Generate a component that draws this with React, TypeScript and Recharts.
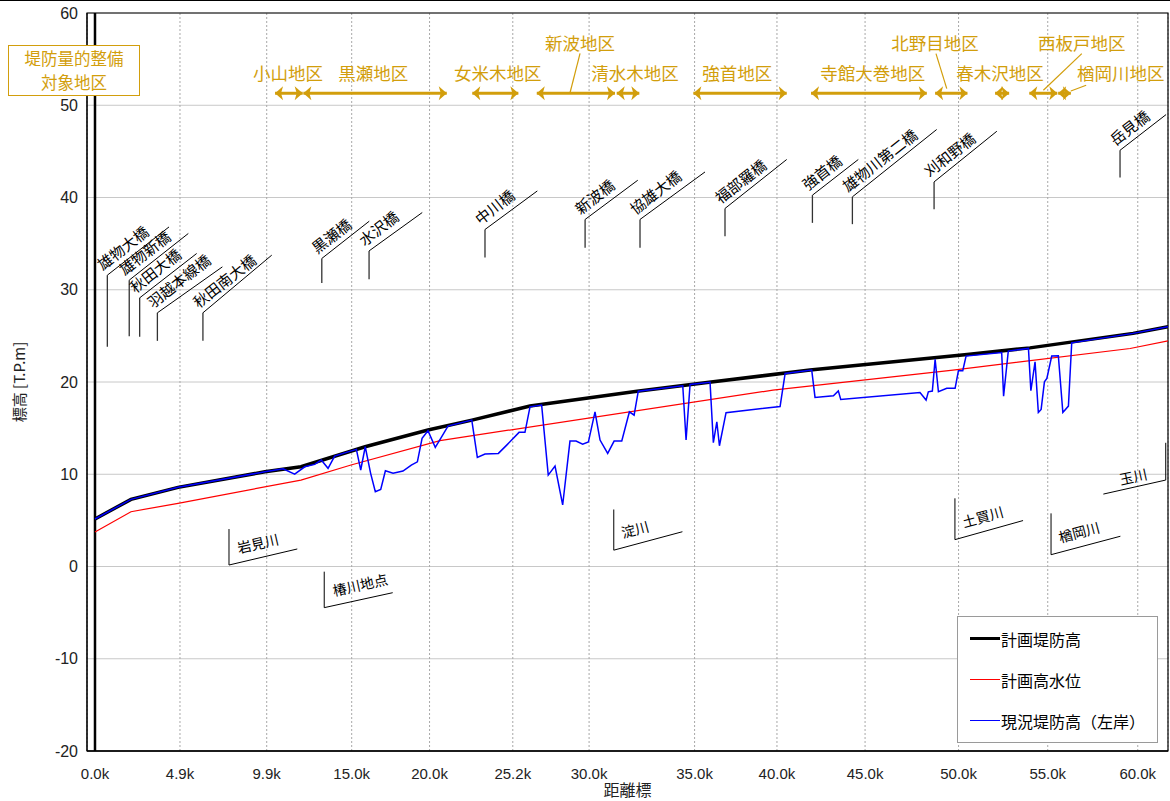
import {
  LineChart,
  Line,
  XAxis,
  YAxis,
  CartesianGrid,
  ReferenceLine,
  ReferenceDot,
  ReferenceArea,
  Legend,
} from "recharts";

// x is the chart's station position: 0.0k sits at 0 and 60.0k at 60,
// but the stations between are not evenly spaced in km.
const tickPos = [0, 4.89, 9.88, 14.77, 19.25, 24.04, 28.43, 34.5, 39.24, 44.31, 49.69, 54.82, 60];
const tickLabels = ["0.0k", "4.9k", "9.9k", "15.0k", "20.0k", "25.2k", "30.0k", "35.0k", "40.0k", "45.0k", "50.0k", "55.0k", "60.0k"];
const yTicks = [-20, -10, 0, 10, 20, 30, 40, 50, 60];

// 計画堤防高
const planDikeX = [0, 2.07, 4.78, 9.78, 11.85, 15.54, 19.16, 21.69, 25.03, 31.19, 35.22, 41.14, 50.18, 53.8, 59.73, 61.74];
const planDikeY = [5.15, 7.28, 8.58, 10.27, 10.81, 12.98, 14.79, 15.87, 17.39, 19.0, 19.95, 21.29, 22.99, 23.7, 25.27, 26.0];

// 計画高水位
const hwlX = [0, 2.07, 4.78, 11.85, 14.73, 19.85, 39.01, 49.37, 59.56, 61.74];
const hwlY = [3.75, 5.94, 6.85, 9.37, 11.0, 13.65, 19.12, 21.29, 23.63, 24.46];

// 現況堤防高（左岸）
const leftBankX = [
  0, 2.07, 4.78, 9.78, 10.82, 11.49, 12.07, 12.64, 13.02, 13.41, 13.79, 14.27, 15.04, 15.29, 15.55,
  15.86, 16.13, 16.44, 16.71, 17.15, 17.72, 18.2, 18.55, 18.82, 19.16, 19.58, 19.97, 20.31, 21.68,
  22.0, 22.44, 23.21, 23.69, 24.4, 24.74, 25.03, 25.7, 26.08, 26.47, 26.91, 27.33, 27.68, 28.06,
  28.39, 28.77, 29.06, 29.5, 29.87, 30.31, 30.75, 31.02, 31.26, 33.82, 34.01, 34.24, 35.39, 35.58,
  35.78, 35.93, 36.31, 39.42, 39.71, 41.24, 41.43, 42.49, 42.77, 42.91, 47.47, 47.82, 47.95, 48.18,
  48.34, 48.53, 49.01, 49.49, 49.68, 49.93, 50.12, 52.17, 52.28, 52.55, 53.71, 53.85, 54.09, 54.28,
  54.44, 54.63, 54.77, 55.05, 55.43, 55.69, 56.01, 56.2, 59.73, 61.74,
];
const leftBankY = [
  5.15, 7.28, 8.58, 10.27, 10.6, 10.02, 10.81, 11.07, 11.54, 10.64, 11.97, 12.26, 12.7, 10.46, 12.98,
  10.1, 8.1, 8.36, 10.38, 10.1, 10.35, 11.0, 11.35, 13.89, 14.71, 12.91, 14.14, 15.22, 15.87,
  11.83, 12.19, 12.26, 13.16, 14.54, 14.54, 17.31, 17.5, 9.91, 10.89, 6.67, 13.6, 13.6, 13.27,
  13.49, 16.77, 13.71, 12.26, 13.6, 13.6, 16.77, 16.41, 19.0, 19.59, 13.71, 19.74, 19.96, 13.42,
  15.69, 13.09, 16.67, 17.35, 20.93, 21.29, 18.33, 18.5, 19.04, 18.11, 18.87, 18.04, 18.94, 19.02,
  22.45, 18.94, 19.31, 19.31, 21.22, 21.22, 22.81, 23.2, 18.47, 23.35, 23.64, 19.05, 22.19, 16.7,
  17.03, 20.02, 20.39, 22.81, 22.84, 16.7, 17.39, 24.25, 25.27, 26.0,
];

// bridges: station, foot of leader, bend, end of slanted leader
const bridgeNames = ["雄物大橋", "雄物新橋", "秋田大橋", "羽越本線橋", "秋田南大橋", "黒瀬橋", "水沢橋", "中川橋", "新波橋", "協雄大橋", "福部羅橋", "強首橋", "雄物川第二橋", "刈和野橋", "岳見橋"];
const bridgeX = [0.71, 1.97, 2.57, 3.59, 6.21, 13.05, 15.77, 22.44, 28.2, 31.36, 36.25, 41.28, 43.58, 48.28, 58.98];
const bridgeFoot = [23.81, 24.97, 24.9, 24.46, 24.46, 30.72, 31.15, 33.5, 34.54, 34.54, 35.81, 37.25, 37.11, 38.73, 42.17];
const bridgeBend = [31.58, 31.04, 29.12, 27.5, 27.5, 33.39, 34.21, 36.53, 37.62, 37.62, 38.81, 40.25, 40.07, 41.69, 45.12];
const bridgeEndX = [4.26, 5.37, 5.85, 7.33, 10.17, 15.78, 18.83, 25.45, 31.23, 35.1, 39.8, 43.92, 48.43, 51.89, 61.63];
const bridgeEndY = [36.81, 36.1, 33.93, 32.48, 33.75, 37.43, 38.37, 40.71, 41.87, 42.77, 44.12, 44.12, 47.37, 47.18, 48.99];

// tributaries / gauging point
const tribNames = ["岩見川", "椿川地点", "淀川", "土買川", "楢岡川", "玉川"];
const tribX = [7.71, 13.19, 29.85, 49.48, 55.01, 61.61];
const tribTop = [4.06, -0.56, 6.18, 7.39, 5.76, 13.41];
const tribCorner = [0.16, -4.46, 1.77, 2.91, 1.28, 9.37];
const tribEndX = [11.64, 17.13, 33.8, 53.4, 59.0, 58.02];
const tribEndY = [1.9, -2.84, 3.77, 4.98, 3.28, 7.85];
const tribAngle = [-13, -12.5, -15, -15.5, -15, -12.5];

// 堤防量的整備対象地区
const districtNames = ["小山地区", "黒瀬地区", "女米木地区", "新波地区", "清水木地区", "強首地区", "寺館大巻地区", "北野目地区", "春木沢地区", "西板戸地区", "楢岡川地区"];
const districtLabelX = [11.11, 16.01, 23.17, 27.91, 31.07, 36.96, 44.75, 48.34, 52.08, 56.78, 59.02];
const districtUpper = [false, false, false, true, false, false, false, true, false, true, false];
const districtFrom = [10.36, 11.99, 21.71, 25.42, 30.02, 34.43, 41.2, 48.34, 51.79, 53.76, 55.42];
const districtTo = [11.95, 20.24, 24.36, 29.92, 31.32, 39.8, 47.86, 50.2, 52.6, 55.37, 56.15];
const leaderFrom = [[27.91, 55.63], [48.39, 55.6], [56.78, 55.6], [57.03, 52.17]];
const leaderTo = [[27.33, 51.33], [49.01, 51.81], [54.57, 51.63], [56.15, 51.55]];

const ARROW_Y = 51.3;
const LABEL_Y = 53.54;
const LABEL_Y_UPPER = 56.75;

const GOLD = "#D29E0C";
const JP = "'Noto Sans CJK JP', 'Noto Sans', sans-serif";
const NUM = "'Liberation Sans Narrow', 'Liberation Sans', Arial, sans-serif";

const toPoints = (xs: number[], ys: number[]) => xs.map((x, i) => ({ x, y: ys[i] }));
const planDike = toPoints(planDikeX, planDikeY);
const hwl = toPoints(hwlX, hwlY);
const leftBank = toPoints(leftBankX, leftBankY);

const legendItems = [
  { name: "計画堤防高", color: "#000000", width: 3.5 },
  { name: "計画高水位", color: "#FF0000", width: 1.2 },
  { name: "現況堤防高（左岸）", color: "#0000FF", width: 1.2 },
];

const slantText =
  (text: string, angle: number, dx: number, dy: number, size: number, color = "#000", anchor = "start") =>
  (p: any) => (
    <g transform={`translate(${p.cx},${p.cy}) rotate(${angle})`}>
      <text x={dx} y={dy} fontSize={size} fill={color} fontFamily={JP} textAnchor={anchor}>
        {text}
      </text>
    </g>
  );

const arrowHead = (dir: number) => (p: any) => {
  const back = p.cx - dir * 8;
  const notch = p.cx - dir * 6;
  return (
    <polygon
      points={`${p.cx},${p.cy} ${back},${p.cy - 7} ${notch},${p.cy} ${back},${p.cy + 7}`}
      fill={GOLD}
    />
  );
};

function LegendBox() {
  return (
    <div
      style={{
        width: 201,
        height: 127,
        boxSizing: "border-box",
        border: "1px solid #9a9a9a",
        background: "#fff",
        paddingTop: 1,
        fontFamily: JP,
        fontSize: 16,
        color: "#000",
      }}
    >
      {legendItems.map((it) => (
        <div key={it.name} style={{ height: 41, display: "flex", alignItems: "center" }}>
          <div style={{ marginLeft: 12, width: 30, height: it.width, background: it.color }} />
          <span style={{ marginLeft: 1 }}>{it.name}</span>
        </div>
      ))}
    </div>
  );
}

function YLabel(props: any) {
  const vb = props.viewBox || { y: 0, height: 0 };
  const cy = vb.y + vb.height / 2;
  return (
    <text
      x={18}
      y={cy}
      transform={`rotate(-90, 18, ${cy})`}
      textAnchor="middle"
      dominantBaseline="central"
      fontSize={15}
      fontFamily={JP}
      fill="#222"
    >
      標高 [T.P.m]
    </text>
  );
}

export default function App() {
  return (
    <div style={{ position: "absolute", left: 0, top: 0, width: 1170, height: 801, background: "#fff" }}>
      <div style={{ position: "absolute", left: 0, top: 0, width: 1170, height: 1, background: "#000" }} />
      <LineChart width={1170} height={801} margin={{ top: 13, right: 2, left: 7, bottom: 20 }}>
        <CartesianGrid vertical={false} stroke="#c8c8c8" />
        <CartesianGrid horizontal={false} stroke="#a8a8a8" strokeDasharray="2 2" />
        <XAxis
          dataKey="x"
          type="number"
          domain={[-0.46, 61.74]}
          allowDataOverflow
          ticks={tickPos}
          interval={0}
          tickFormatter={(v: number) => {
            const i = tickPos.indexOf(v);
            return i >= 0 ? tickLabels[i] : "";
          }}
          tickLine={false}
          tickSize={0}
          tickMargin={17}
          axisLine={{ stroke: "#000", strokeWidth: 1.5 }}
          tick={{ fontSize: 15, fill: "#222", fontFamily: NUM }}
          height={30}
          label={{ value: "距離標", position: "bottom", offset: 4, fontSize: 16, fill: "#222", fontFamily: JP }}
        />
        <YAxis
          type="number"
          domain={[-20, 60]}
          ticks={yTicks}
          interval={0}
          width={80}
          tickLine={false}
          tickSize={0}
          tickMargin={9}
          axisLine={{ stroke: "#000" }}
          tick={{ fontSize: 16, fill: "#222", fontFamily: NUM }}
          label={<YLabel />}
        />
        <ReferenceArea x1={-0.46} x2={61.74} y1={-20} y2={60} fill="none" stroke="#000" strokeWidth={1.2} ifOverflow="visible" />
        <ReferenceLine x={0} stroke="#000" strokeWidth={2.5} />

        {/* bridges */}
        {bridgeNames.map((n, i) => (
          <ReferenceLine
            key={`bv${i}`}
            segment={[{ x: bridgeX[i], y: bridgeFoot[i] }, { x: bridgeX[i], y: bridgeBend[i] }]}
            stroke="#333"
            strokeWidth={1.3}
            ifOverflow="visible"
          />
        ))}
        {bridgeNames.map((n, i) => (
          <ReferenceLine
            key={`bd${i}`}
            segment={[{ x: bridgeX[i], y: bridgeBend[i] }, { x: bridgeEndX[i], y: bridgeEndY[i] }]}
            stroke="#000"
            strokeWidth={1}
            ifOverflow="visible"
          />
        ))}
        {bridgeNames.map((n, i) => (
          <ReferenceDot
            key={`bt${i}`}
            x={bridgeX[i]}
            y={bridgeBend[i]}
            r={0}
            ifOverflow="visible"
            shape={slantText(n, -38, -1, -6, 15)}
          />
        ))}

        {/* tributaries */}
        {tribNames.map((n, i) => (
          <ReferenceLine
            key={`tv${i}`}
            segment={[{ x: tribX[i], y: tribTop[i] }, { x: tribX[i], y: tribCorner[i] }]}
            stroke="#000"
            strokeWidth={1}
            ifOverflow="visible"
          />
        ))}
        {tribNames.map((n, i) => (
          <ReferenceLine
            key={`td${i}`}
            segment={[{ x: tribX[i], y: tribCorner[i] }, { x: tribEndX[i], y: tribEndY[i] }]}
            stroke="#000"
            strokeWidth={1}
            ifOverflow="visible"
          />
        ))}
        {tribNames.map((n, i) => {
          const rightSide = tribEndX[i] < tribX[i];
          return (
            <ReferenceDot
              key={`tt${i}`}
              x={rightSide ? tribEndX[i] : tribX[i]}
              y={rightSide ? tribEndY[i] : tribCorner[i]}
              r={0}
              ifOverflow="visible"
              shape={slantText(n, tribAngle[i], rightSide ? 19 : 12, rightSide ? -5 : -9, 14)}
            />
          );
        })}

        {/* districts */}
        {districtNames.map((n, i) => (
          <ReferenceLine
            key={`da${i}`}
            segment={[{ x: districtFrom[i], y: ARROW_Y }, { x: districtTo[i], y: ARROW_Y }]}
            stroke={GOLD}
            strokeWidth={3}
            ifOverflow="visible"
          />
        ))}
        {districtNames.map((n, i) => (
          <ReferenceDot key={`dl${i}`} x={districtFrom[i]} y={ARROW_Y} r={0} ifOverflow="visible" shape={arrowHead(-1)} />
        ))}
        {districtNames.map((n, i) => (
          <ReferenceDot key={`dr${i}`} x={districtTo[i]} y={ARROW_Y} r={0} ifOverflow="visible" shape={arrowHead(1)} />
        ))}
        {leaderFrom.map((f, i) => (
          <ReferenceLine
            key={`ld${i}`}
            segment={[{ x: f[0], y: f[1] }, { x: leaderTo[i][0], y: leaderTo[i][1] }]}
            stroke={GOLD}
            strokeWidth={1.2}
            ifOverflow="visible"
          />
        ))}
        {districtNames.map((n, i) => (
          <ReferenceDot
            key={`dt${i}`}
            x={districtLabelX[i]}
            y={districtUpper[i] ? LABEL_Y_UPPER : LABEL_Y}
            r={0}
            ifOverflow="visible"
            shape={(p: any) => (
              <text
                x={p.cx}
                y={p.cy}
                textAnchor="middle"
                dominantBaseline="central"
                fontSize={17.5}
                fill={GOLD}
                fontFamily={JP}
              >
                {n}
              </text>
            )}
          />
        ))}

        <Line data={hwl} dataKey="y" stroke="#FF0000" strokeWidth={1.2} dot={false} isAnimationActive={false} />
        <Line data={planDike} dataKey="y" stroke="#000000" strokeWidth={3.5} dot={false} isAnimationActive={false} />
        <Line data={leftBank} dataKey="y" stroke="#0000FF" strokeWidth={1.5} dot={false} isAnimationActive={false} />

        <Legend
          layout="horizontal"
          verticalAlign="middle"
          align="center"
          wrapperStyle={{ left: 957, top: 616, width: 201, height: 127 }}
          content={() => <LegendBox />}
        />
      </LineChart>
      <div
        style={{
          position: "absolute",
          left: 8,
          top: 45,
          width: 132,
          height: 51,
          boxSizing: "border-box",
          border: `1.5px solid ${GOLD}`,
          background: "#fff",
          color: GOLD,
          fontFamily: JP,
          fontSize: 16.5,
          lineHeight: "24px",
          textAlign: "center",
        }}
      >
        <div>堤防量的整備</div>
        <div>対象地区</div>
      </div>
    </div>
  );
}
